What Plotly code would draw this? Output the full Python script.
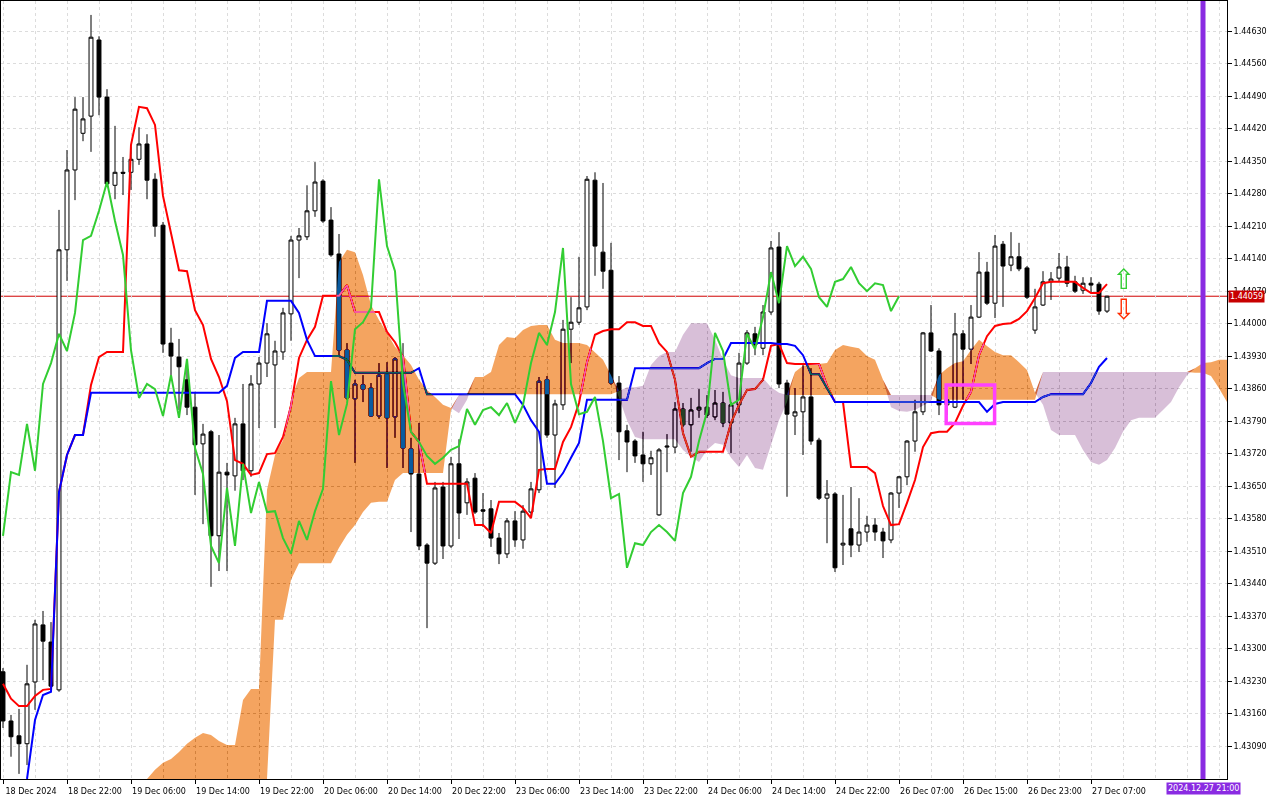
import plotly.graph_objects as go

# ---------------- data ----------------
x_labels = ["18 Dec 2024", "18 Dec 22:00", "19 Dec 06:00", "19 Dec 14:00", "19 Dec 22:00",
            "20 Dec 06:00", "20 Dec 14:00", "20 Dec 22:00", "23 Dec 06:00", "23 Dec 14:00",
            "23 Dec 22:00", "24 Dec 06:00", "24 Dec 14:00", "24 Dec 22:00", "26 Dec 07:00",
            "26 Dec 15:00", "26 Dec 23:00", "27 Dec 07:00"]
x_label_pos = [0, 8, 16, 24, 32, 40, 48, 56, 64, 72, 80, 88, 96, 104, 112, 120, 128, 136]
y_ticks = [1.43090, 1.43160, 1.43230, 1.43300, 1.43370, 1.43440, 1.43510, 1.43580, 1.43650,
           1.43720, 1.43790, 1.43860, 1.43930, 1.44000, 1.44070, 1.44140, 1.44210, 1.44280,
           1.44350, 1.44420, 1.44490, 1.44560, 1.44630]

open_ = [1.43250, 1.43144, 1.43112, 1.43095, 1.43228, 1.43351, 1.43314, 1.43211, 1.44159, 1.44331,
         1.44410, 1.44447, 1.44611, 1.44488, 1.44298, 1.44326, 1.44326, 1.44354, 1.44387, 1.44311,
         1.44212, 1.43958, 1.43928, 1.43879, 1.43820, 1.43741, 1.43767, 1.43543, 1.43680, 1.43672,
         1.43784, 1.43683, 1.43870, 1.43915, 1.43911, 1.43939, 1.44021, 1.44180, 1.44187, 1.44243,
         1.44307, 1.44223, 1.44150, 1.43943, 1.43838, 1.43868, 1.43861, 1.43801, 1.43891, 1.43799,
         1.43896, 1.43730, 1.43676, 1.43523, 1.43484, 1.43648, 1.43521, 1.43698, 1.43614, 1.43667,
         1.43599, 1.43601, 1.43538, 1.43504, 1.43575, 1.43534, 1.43594, 1.43642, 1.43879, 1.43760,
         1.43825, 1.43988, 1.44003, 1.44036, 1.44309, 1.44154, 1.44115, 1.43872, 1.43769, 1.43747,
         1.43717, 1.43698, 1.43588, 1.43734, 1.43734, 1.43816, 1.43782, 1.43814, 1.43820, 1.43799,
         1.43829, 1.43786, 1.43825, 1.43915, 1.43978, 1.43947, 1.44025, 1.44165, 1.43872, 1.43801,
         1.43810, 1.43842, 1.43749, 1.43624, 1.43633, 1.43523, 1.43558, 1.43523, 1.43551, 1.43566,
         1.43551, 1.43534, 1.43635, 1.43670, 1.43747, 1.43810, 1.43980, 1.43941, 1.43825, 1.43820,
         1.43978, 1.43945, 1.44014, 1.44111, 1.44044, 1.44171, 1.44126, 1.44144, 1.44120, 1.43986,
         1.44040, 1.44090, 1.44098, 1.44122, 1.44090, 1.44072, 1.44087, 1.44085, 1.44027]

high = [1.43258, 1.43157, 1.43170, 1.43265, 1.43362, 1.43381, 1.43357, 1.44245, 1.44374, 1.44488,
        1.44488, 1.44665, 1.44619, 1.44505, 1.44426, 1.44359, 1.44380, 1.44423, 1.44408, 1.44324,
        1.44219, 1.43991, 1.43967, 1.43911, 1.43853, 1.43784, 1.43771, 1.43760, 1.43700, 1.43797,
        1.43870, 1.43889, 1.43928, 1.44001, 1.43963, 1.44034, 1.44189, 1.44206, 1.44298, 1.44348,
        1.44311, 1.44251, 1.44193, 1.43958, 1.43879, 1.43889, 1.43872, 1.43915, 1.43917, 1.43928,
        1.43958, 1.43754, 1.43786, 1.43527, 1.43659, 1.43659, 1.43713, 1.43751, 1.43667, 1.43678,
        1.43635, 1.43620, 1.43549, 1.43581, 1.43596, 1.43609, 1.43659, 1.43885, 1.43887, 1.43836,
        1.44008, 1.44057, 1.44144, 1.44318, 1.44326, 1.44303, 1.44174, 1.43887, 1.43782, 1.43751,
        1.43767, 1.43726, 1.43732, 1.43762, 1.43831, 1.43829, 1.43840, 1.43859, 1.43846, 1.43857,
        1.43853, 1.43831, 1.43937, 1.43986, 1.43993, 1.44040, 1.44178, 1.44197, 1.43879, 1.43861,
        1.43915, 1.43904, 1.43754, 1.43663, 1.43637, 1.43631, 1.43648, 1.43624, 1.43586, 1.43581,
        1.43560, 1.43637, 1.43672, 1.43749, 1.43836, 1.43982, 1.44040, 1.43947, 1.43857, 1.44023,
        1.43986, 1.44040, 1.44154, 1.44133, 1.44191, 1.44178, 1.44197, 1.44174, 1.44124, 1.44075,
        1.44113, 1.44111, 1.44152, 1.44146, 1.44103, 1.44100, 1.44100, 1.44090, 1.44060]

low = [1.43129, 1.43067, 1.43030, 1.43049, 1.43168, 1.43232, 1.43211, 1.43207, 1.44092, 1.44266,
       1.44393, 1.44370, 1.44449, 1.44296, 1.44268, 1.44277, 1.44288, 1.44342, 1.44268, 1.44187,
       1.43937, 1.43889, 1.43814, 1.43803, 1.43631, 1.43568, 1.43433, 1.43467, 1.43467, 1.43640,
       1.43663, 1.43670, 1.43775, 1.43885, 1.43775, 1.43922, 1.43963, 1.44098, 1.44180, 1.44230,
       1.44217, 1.44144, 1.43928, 1.43836, 1.43700, 1.43831, 1.43799, 1.43795, 1.43689, 1.43754,
       1.43689, 1.43551, 1.43512, 1.43344, 1.43480, 1.43493, 1.43517, 1.43536, 1.43588, 1.43590,
       1.43562, 1.43519, 1.43482, 1.43495, 1.43519, 1.43515, 1.43584, 1.43635, 1.43754, 1.43646,
       1.43814, 1.43915, 1.43997, 1.44029, 1.44103, 1.44075, 1.43868, 1.43706, 1.43680, 1.43700,
       1.43659, 1.43674, 1.43586, 1.43680, 1.43721, 1.43777, 1.43724, 1.43797, 1.43797, 1.43792,
       1.43777, 1.43721, 1.43807, 1.43911, 1.43932, 1.43932, 1.44019, 1.43861, 1.43627, 1.43760,
       1.43717, 1.43739, 1.43620, 1.43527, 1.43465, 1.43480, 1.43497, 1.43508, 1.43530, 1.43532,
       1.43495, 1.43527, 1.43603, 1.43652, 1.43724, 1.43803, 1.43939, 1.43803, 1.43803, 1.43818,
       1.43836, 1.43913, 1.44012, 1.44040, 1.44012, 1.44036, 1.44113, 1.44113, 1.44053, 1.43978,
       1.44038, 1.44051, 1.44090, 1.44079, 1.44066, 1.44064, 1.44068, 1.44019, 1.44023]

close = [1.43144, 1.43110, 1.43095, 1.43224, 1.43353, 1.43316, 1.43219, 1.44159, 1.44331, 1.44462,
         1.44441, 1.44617, 1.44488, 1.44301, 1.44326, 1.44324, 1.44354, 1.44387, 1.44309, 1.44210,
         1.43956, 1.43930, 1.43907, 1.43820, 1.43739, 1.43762, 1.43543, 1.43680, 1.43674, 1.43784,
         1.43683, 1.43870, 1.43915, 1.43978, 1.43941, 1.44023, 1.44180, 1.44189, 1.44243, 1.44305,
         1.44221, 1.44148, 1.43943, 1.43840, 1.43870, 1.43859, 1.43801, 1.43889, 1.43797, 1.43924,
         1.43732, 1.43676, 1.43521, 1.43484, 1.43646, 1.43521, 1.43698, 1.43592, 1.43659, 1.43594,
         1.43596, 1.43538, 1.43504, 1.43575, 1.43534, 1.43596, 1.43644, 1.43876, 1.43760, 1.43827,
         1.43988, 1.44003, 1.44034, 1.44311, 1.44167, 1.44113, 1.43872, 1.43767, 1.43745, 1.43715,
         1.43698, 1.43711, 1.43728, 1.43736, 1.43816, 1.43782, 1.43814, 1.43820, 1.43803, 1.43829,
         1.43786, 1.43825, 1.43915, 1.43980, 1.43954, 1.44025, 1.44163, 1.43870, 1.43805, 1.43810,
         1.43842, 1.43747, 1.43624, 1.43633, 1.43474, 1.43527, 1.43523, 1.43551, 1.43566, 1.43551,
         1.43532, 1.43635, 1.43670, 1.43747, 1.43810, 1.43980, 1.43941, 1.43825, 1.43836, 1.43978,
         1.43945, 1.44014, 1.44111, 1.44044, 1.44167, 1.44124, 1.44144, 1.44118, 1.44057, 1.44036,
         1.44090, 1.44096, 1.44122, 1.44087, 1.44070, 1.44087, 1.44083, 1.44027, 1.44059]

# Tenkan-sen (red) per bar
tenkan = [1.43224, 1.43192, 1.43176, 1.43176, 1.43198, 1.43211, 1.43213, 1.43637, 1.43717, 1.43760,
          1.43760, 1.43868, 1.43928, 1.43939, 1.43939, 1.43939, 1.44385, 1.44467, 1.44464, 1.44428,
          1.44275, 1.44197, 1.44115, 1.44113, 1.44029, 1.43997, 1.43924, 1.43885, 1.43833, 1.43706,
          1.43698, 1.43674, 1.43678, 1.43719, 1.43721, 1.43756, 1.43823, 1.43926, 1.43965, 1.43993,
          1.44060, 1.44060, 1.44060, 1.44083, 1.44025, 1.44025, 1.44025, 1.44025, 1.43982, 1.43960,
          1.43928, 1.43767, 1.43745, 1.43655, 1.43655, 1.43655, 1.43655, 1.43655, 1.43655, 1.43566,
          1.43566, 1.43549, 1.43616, 1.43616, 1.43616, 1.43603, 1.43581, 1.43685, 1.43687, 1.43687,
          1.43745, 1.43777, 1.43829, 1.43917, 1.43976, 1.43984, 1.43988, 1.43988, 1.44003, 1.44003,
          1.43995, 1.43995, 1.43958, 1.43939, 1.43879, 1.43764, 1.43713, 1.43724, 1.43724, 1.43724,
          1.43724, 1.43786, 1.43825, 1.43857, 1.43859, 1.43879, 1.43952, 1.43956, 1.43915, 1.43913,
          1.43913, 1.43913, 1.43913, 1.43866, 1.43831, 1.43831, 1.43691, 1.43691, 1.43691, 1.43678,
          1.43607, 1.43566, 1.43568, 1.43614, 1.43663, 1.43734, 1.43764, 1.43767, 1.43767, 1.43786,
          1.43823, 1.43853, 1.43932, 1.43973, 1.43995, 1.43999, 1.44001, 1.44010, 1.44027, 1.44055,
          1.44087, 1.44090, 1.44090, 1.44090, 1.44090, 1.44077, 1.44066, 1.44066, 1.44085]

# Kijun-sen (blue) per bar; first bars lie below the visible range
kijun = [None, None, None, 1.43019, 1.43146, 1.43200, 1.43207, 1.43637, 1.43717, 1.43760,
         1.43760, 1.43851, 1.43851, 1.43851, 1.43851, 1.43851, 1.43851, 1.43851, 1.43851, 1.43851,
         1.43851, 1.43851, 1.43851, 1.43851, 1.43851, 1.43851, 1.43851, 1.43851, 1.43866, 1.43926,
         1.43939, 1.43939, 1.43939, 1.44049, 1.44049, 1.44049, 1.44049, 1.44023, 1.43965, 1.43930,
         1.43930, 1.43930, 1.43930, 1.43922, 1.43894, 1.43894, 1.43894, 1.43894, 1.43894, 1.43894,
         1.43894, 1.43894, 1.43904, 1.43848, 1.43848, 1.43848, 1.43848, 1.43848, 1.43848, 1.43848,
         1.43848, 1.43848, 1.43848, 1.43848, 1.43848, 1.43825, 1.43792, 1.43767, 1.43655, 1.43655,
         1.43678, 1.43711, 1.43743, 1.43836, 1.43836, 1.43836, 1.43836, 1.43836, 1.43836, 1.43904,
         1.43904, 1.43904, 1.43904, 1.43904, 1.43904, 1.43904, 1.43904, 1.43904, 1.43915, 1.43924,
         1.43924, 1.43958, 1.43958, 1.43958, 1.43958, 1.43958, 1.43958, 1.43956, 1.43956, 1.43952,
         1.43932, 1.43891, 1.43891, 1.43861, 1.43831, 1.43831, 1.43831, 1.43831, 1.43831, 1.43831,
         1.43831, 1.43831, 1.43831, 1.43831, 1.43831, 1.43831, 1.43831, 1.43831, 1.43831, 1.43831,
         1.43831, 1.43831, 1.43831, 1.43810, 1.43827, 1.43831, 1.43831, 1.43831, 1.43831, 1.43831,
         1.43842, 1.43848, 1.43848, 1.43848, 1.43848, 1.43848, 1.43872, 1.43907, 1.43926]

chikou_shift = 26          # Chikou span = close plotted 26 bars back
cloud_start = 17           # first bar position of the visible Senkou spans

senkou_a = [1.43019, 1.43019, 1.43039, 1.43054, 1.43062, 1.43077, 1.43095, 1.43108, 1.43118, 1.43114,
            1.43101, 1.43092, 1.43092, 1.43189, 1.43213, 1.43213, 1.43642, 1.43717, 1.43749, 1.43836,
            1.43883, 1.43896, 1.43896, 1.43896, 1.43896, 1.44133, 1.44159, 1.44154, 1.44105, 1.44040,
            1.44008, 1.43980, 1.43950, 1.43932, 1.43911, 1.43879, 1.43857, 1.43842, 1.43825, 1.43818,
            1.43807, 1.43836, 1.43885, 1.43885, 1.43896, 1.43954, 1.43971, 1.43969, 1.43986, 1.43995,
            1.43997, 1.43997, 1.43965, 1.43958, 1.43958, 1.43958, 1.43954, 1.43939, 1.43922, 1.43889,
            1.43842, 1.43792, 1.43756, 1.43751, 1.43751, 1.43751, 1.43751, 1.43751, 1.43728, 1.43713,
            1.43702, 1.43728, 1.43743, 1.43739, 1.43711, 1.43691, 1.43717, 1.43689, 1.43685, 1.43739,
            1.43792, 1.43831, 1.43896, 1.43909, 1.43911, 1.43913, 1.43915, 1.43943, 1.43954, 1.43950,
            1.43947, 1.43930, 1.43922, 1.43879, 1.43820, 1.43812, 1.43810, 1.43814, 1.43823, 1.43833,
            1.43889, 1.43904, 1.43915, 1.43919, 1.43943, 1.43965, 1.43952, 1.43939, 1.43932, 1.43932,
            1.43917, 1.43900, 1.43851, 1.43825, 1.43771, 1.43760, 1.43760, 1.43760, 1.43728, 1.43702,
            1.43696, 1.43706, 1.43732, 1.43767, 1.43792, 1.43797, 1.43797, 1.43797, 1.43814, 1.43831,
            1.43863, 1.43889, 1.43904, 1.43915, 1.43917, 1.43922, 1.43922]

senkou_b = [1.43019, 1.43019, 1.43019, 1.43019, 1.43019, 1.43019, 1.43019, 1.43019, 1.43019, 1.43019,
            1.43019, 1.43019, 1.43019, 1.43019, 1.43019, 1.43019, 1.43019, 1.43362, 1.43362, 1.43448,
            1.43484, 1.43484, 1.43484, 1.43484, 1.43484, 1.43517, 1.43545, 1.43566, 1.43594, 1.43614,
            1.43616, 1.43616, 1.43663, 1.43678, 1.43678, 1.43678, 1.43678, 1.43678, 1.43678, 1.43814,
            1.43846, 1.43848, 1.43848, 1.43848, 1.43848, 1.43848, 1.43848, 1.43848, 1.43848, 1.43848,
            1.43848, 1.43848, 1.43848, 1.43848, 1.43848, 1.43848, 1.43848, 1.43848, 1.43848, 1.43848,
            1.43855, 1.43863, 1.43863, 1.43866, 1.43911, 1.43930, 1.43939, 1.43939, 1.43976, 1.44001,
            1.44001, 1.44001, 1.43965, 1.43922, 1.43889, 1.43883, 1.43883, 1.43883, 1.43883, 1.43863,
            1.43851, 1.43846, 1.43846, 1.43846, 1.43846, 1.43846, 1.43846, 1.43846, 1.43846, 1.43846,
            1.43846, 1.43846, 1.43846, 1.43846, 1.43846, 1.43846, 1.43846, 1.43846, 1.43846, 1.43846,
            1.43836, 1.43836, 1.43836, 1.43836, 1.43836, 1.43836, 1.43836, 1.43836, 1.43836, 1.43836,
            1.43836, 1.43836, 1.43836, 1.43896, 1.43896, 1.43896, 1.43896, 1.43896, 1.43896, 1.43896,
            1.43896, 1.43896, 1.43896, 1.43896, 1.43896, 1.43896, 1.43896, 1.43896, 1.43896, 1.43896,
            1.43896, 1.43896, 1.43894, 1.43894, 1.43887, 1.43861, 1.43831]

last_price = 1.44059
marker_bar = 150                      # 2024.12.27 21:00
marker_label = "2024.12.27 21:00"
box_bars = (117.9, 123.95)
box_prices = (1.43785, 1.43868)
arrow_bar = 140
arrow_up_price = 1.44094
arrow_dn_price = 1.44031

# ---------------- figure ----------------
bars = list(range(len(close)))
FONT = "DejaVu Sans"
GRID = "#dcdcdc"

fig = go.Figure()

fig.add_trace(go.Candlestick(
    x=bars, open=open_, high=high, low=low, close=close,
    increasing=dict(line=dict(color="black", width=1), fillcolor="white"),
    decreasing=dict(line=dict(color="black", width=1), fillcolor="black"),
    whiskerwidth=0, hoverinfo="skip", showlegend=False))

fig.add_trace(go.Scatter(x=bars, y=tenkan, mode="lines",
                         line=dict(color="#ff0000", width=2), hoverinfo="skip"))
fig.add_trace(go.Scatter(x=bars, y=kijun, mode="lines",
                         line=dict(color="#0000ff", width=2), hoverinfo="skip"))

# Kumo: colours are the XOR/difference complements of sandybrown and thistle
cloud_x = list(range(cloud_start, cloud_start + len(senkou_a)))
upper = [max(a, b) for a, b in zip(senkou_a, senkou_b)]
fig.add_trace(go.Scatter(x=cloud_x, y=senkou_b, mode="lines", line=dict(width=0),
                         hoverinfo="skip"))
fig.add_trace(go.Scatter(x=cloud_x, y=upper, mode="lines", line=dict(width=0),
                         fill="tonexty", fillcolor="rgb(11,91,159)", hoverinfo="skip"))
fig.add_trace(go.Scatter(x=cloud_x, y=senkou_a, mode="lines", line=dict(width=0),
                         hoverinfo="skip"))
fig.add_trace(go.Scatter(x=cloud_x, y=upper, mode="lines", line=dict(width=0),
                         fill="tonexty", fillcolor="rgb(39,64,39)", hoverinfo="skip"))

chikou_x = bars[:len(close) - chikou_shift]
chikou_y = close[chikou_shift:]
fig.add_trace(go.Scatter(x=chikou_x, y=chikou_y, mode="lines",
                         line=dict(color="#32cd32", width=2), hoverinfo="skip"))

minor_vals = [v for v in range(4, 153, 4) if v not in x_label_pos]

fig.update_layout(
    width=1280, height=800,
    margin=dict(l=1, r=53, t=1, b=21),
    paper_bgcolor="white", plot_bgcolor="white",
    showlegend=False, hovermode=False,
    font=dict(family=FONT, size=8, color="black"),
    xaxis=dict(
        range=[-0.25, 153.0], rangeslider=dict(visible=False),
        tickmode="array", tickvals=x_label_pos, ticktext=x_labels,
        ticks="outside", ticklen=4, tickcolor="black", ticklabelshift=28,
        tickfont=dict(family=FONT, size=8, color="black"),
        showline=True, linecolor="black", linewidth=1, mirror=True,
        showgrid=True, gridcolor=GRID, griddash="3px,3px", gridwidth=1,
        minor=dict(tickmode="array", tickvals=minor_vals, showgrid=True,
                   gridcolor=GRID, griddash="3px,3px", ticks=""),
        zeroline=False, fixedrange=True),
    yaxis=dict(
        range=[1.43019, 1.44695], side="right",
        tickmode="array", tickvals=y_ticks, ticktext=[f"{v:.5f}" for v in y_ticks],
        ticks="outside", ticklen=4, tickcolor="black",
        tickfont=dict(family=FONT, size=8, color="black"),
        showline=True, linecolor="black", linewidth=1, mirror=True,
        showgrid=True, gridcolor=GRID, griddash="3px,3px", gridwidth=1,
        zeroline=False, fixedrange=True),
)

# current price line
fig.add_shape(type="line", xref="paper", x0=0, x1=1, yref="y", y0=last_price, y1=last_price,
              line=dict(color="#d00000", width=1), layer="below")
# time marker line
fig.add_shape(type="line", xref="x", x0=marker_bar, x1=marker_bar, yref="paper", y0=0, y1=1,
              line=dict(color="#8a2be2", width=5), layer="above")
# highlight box
fig.add_shape(type="rect", xref="x", yref="y", x0=box_bars[0], x1=box_bars[1],
              y0=box_prices[0], y1=box_prices[1],
              line=dict(color="#ff40ff", width=3.5), layer="above")

fig.add_annotation(xref="paper", x=1, xanchor="left", xshift=1, yref="y", y=last_price,
                   text=f"{last_price:.5f}", showarrow=False, bgcolor="#c80000",
                   font=dict(family=FONT, size=8, color="white"), borderpad=1)
fig.add_annotation(xref="x", x=marker_bar, yref="paper", y=0, yanchor="top", yshift=-3,
                   text=marker_label, showarrow=False, bgcolor="#8a2be2",
                   font=dict(family=FONT, size=8, color="white"), borderpad=1)
fig.add_annotation(xref="x", x=arrow_bar, yref="y", y=arrow_up_price, text="⇧",
                   showarrow=False, font=dict(family=FONT, size=28, color="#33cc33"))
fig.add_annotation(xref="x", x=arrow_bar, yref="y", y=arrow_dn_price, text="⇩",
                   showarrow=False, font=dict(family=FONT, size=28, color="#ff2a00"))

post = """
(function(){
  var st = document.createElement('style');
  st.textContent = 'html,body{margin:0;padding:0;overflow:hidden;}';
  document.head.appendChild(st);
  document.body.style.margin = '0';
  var gd = document.getElementById('{plot_id}');
  function fixBlend(){
    var paths = gd.querySelectorAll('.scatterlayer path');
    for (var i = 0; i < paths.length; i++) {
      var p = paths[i];
      var f = (p.style && p.style.fill) || '';
      if (f.indexOf('11, 91, 159') >= 0 || f.indexOf('39, 64, 39') >= 0) {
        p.style.mixBlendMode = 'difference';
        var e = p.parentNode;
        while (e && e.nodeName && e.nodeName.toLowerCase() !== 'svg') {
          if (e.hasAttribute && e.hasAttribute('clip-path')) { e.removeAttribute('clip-path'); }
          if (e.style) { e.style.clipPath = 'none'; e.style.isolation = 'auto'; }
          e = e.parentNode;
        }
      }
    }
  }
  fixBlend();
  setTimeout(fixBlend, 0);
  setTimeout(fixBlend, 200);
  if (gd.on) { gd.on('plotly_afterplot', fixBlend); }
})();
"""

fig.write_html("out.html", config={"displayModeBar": False}, post_script=post)
